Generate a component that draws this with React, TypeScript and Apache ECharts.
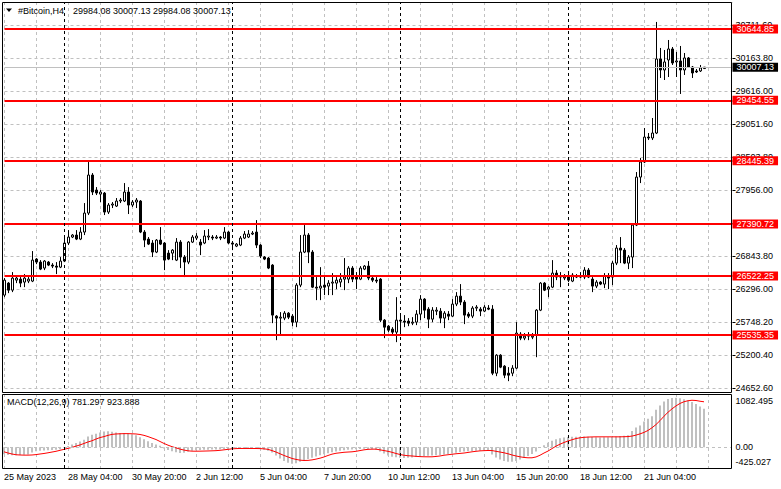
import React, { useEffect, useRef } from 'react';
import * as echarts from 'echarts';

const FONT = 'Liberation Sans, Arial, sans-serif';
const GRID_GRAY = '#c0c0c0';

const symbolTitle = '#Bitcoin,H4';
const lastBarText = '29984.08 30007.13 29984.08 30007.13';
const macdTitle = 'MACD(12,26,9) 781.297 923.888';

const openPrices = [
  26203, 26403, 26286, 26453, 26470, 26420, 26437, 26437, 26804, 26754,
  26654, 26754, 26704, 26687, 26670, 26771, 27072, 27172, 27205, 27138,
  27255, 27572, 28207, 27956, 27889, 27906, 27589, 27706, 27689, 27773,
  27773, 27923, 27706, 27756, 27773, 27255, 27138, 27072, 26921, 27121,
  27072, 26904, 26904, 26787, 27088, 26838, 26754, 27088, 27155, 27088,
  27072, 27172, 27172, 27155, 27172, 27155, 27255, 27072, 27021, 27038,
  27155, 27172, 27222, 27255, 27038, 26838, 26821, 26704, 25852, 25819,
  25819, 25902, 25852, 25752, 26370, 26921, 27205, 26921, 26336, 26320,
  26370, 26353, 26403, 26403, 26420, 26470, 26470, 26654, 26504, 26470,
  26637, 26687, 26487, 26453, 26470, 25785, 25685, 25635, 25585, 25769,
  25769, 25769, 25735, 25752, 25886, 26136, 25969, 25802, 25935, 25935,
  25819, 25886, 25852, 26053, 26186, 26086, 25886, 25852, 25986, 25969,
  25936, 25986, 25969, 24900, 25201, 25017, 24900, 24900, 24984, 25551,
  25485, 25518, 25501, 25535, 25952, 26403, 26303, 26336, 26570, 26520,
  26487, 26504, 26437, 26520, 26504, 26504, 26620, 26470, 26353, 26420,
  26387, 26520, 26504, 26737, 26988, 26954, 26737, 26838, 27372, 28173,
  28424, 28841, 28825, 28908, 30144, 29960, 30127, 30311, 30094, 30111,
  29960, 30161, 30010, 29944, 29944, 29984.08,
];

const closePrices = [
  26453, 26286, 26487, 26487, 26403, 26487, 26470, 26787, 26754, 26637,
  26771, 26704, 26687, 26670, 26771, 27072, 27172, 27205, 27138, 27255,
  27572, 28207, 27923, 27906, 27923, 27589, 27706, 27723, 27773, 27789,
  27923, 27706, 27756, 27789, 27255, 27121, 27054, 26921, 27121, 27054,
  26787, 26804, 26954, 27088, 26838, 26754, 27088, 27172, 27189, 27038,
  27189, 27189, 27155, 27172, 27155, 27255, 27072, 27054, 27054, 27155,
  27222, 27222, 27238, 27038, 26854, 26804, 26654, 25869, 25819, 25835,
  25902, 25835, 25752, 26370, 26921, 27205, 26921, 26336, 26320, 26353,
  26336, 26403, 26420, 26453, 26470, 26504, 26654, 26470, 26470, 26654,
  26687, 26487, 26453, 26437, 25785, 25668, 25618, 25585, 25785, 25785,
  25752, 25735, 25752, 25886, 26136, 25952, 25802, 25952, 25952, 25819,
  25902, 25852, 26053, 26186, 26086, 25869, 25852, 25986, 26002, 25936,
  26002, 25969, 24900, 25201, 25001, 24867, 24867, 24984, 25569, 25485,
  25518, 25535, 25518, 25952, 26403, 26286, 26336, 26570, 26504, 26504,
  26504, 26453, 26537, 26504, 26520, 26620, 26504, 26353, 26420, 26387,
  26520, 26487, 26737, 26988, 26954, 26737, 26838, 27372, 28173, 28424,
  28841, 28825, 28908, 30144, 29960, 30094, 30311, 30077, 30111, 29960,
  30161, 30010, 29910, 29927, 29994, 30007.13,
];

const lowPrices = [
  26169, 26236, 26253, 26403, 26336, 26336, 26403, 26420, 26720, 26620,
  26620, 26687, 26654, 26554, 26654, 26754, 27038, 27155, 27121, 27121,
  27205, 27539, 27873, 27873, 27756, 27539, 27556, 27656, 27673, 27739,
  27756, 27556, 27673, 27656, 27238, 27004, 27038, 26838, 26904, 27038,
  26620, 26787, 26787, 26771, 26654, 26504, 26720, 27072, 27121, 26871,
  27054, 27121, 27121, 27138, 27121, 27138, 27054, 26954, 27004, 27021,
  27138, 27155, 27205, 26988, 26821, 26787, 26637, 25735, 25451, 25535,
  25785, 25802, 25685, 25668, 26336, 26904, 26737, 26320, 26119, 26119,
  26203, 26203, 26203, 26303, 26336, 26286, 26403, 26420, 26303, 26453,
  26620, 26453, 26420, 26403, 25752, 25485, 25585, 25535, 25418, 25585,
  25668, 25685, 25702, 25702, 25785, 25819, 25652, 25752, 25869, 25735,
  25652, 25785, 25835, 26019, 26036, 25719, 25819, 25819, 25936, 25852,
  25919, 25952, 24867, 24850, 24984, 24817, 24767, 24850, 24967, 25451,
  25451, 25451, 25468, 25167, 25936, 26270, 26169, 26320, 26453, 26336,
  26453, 26420, 26420, 26487, 26487, 26470, 26487, 26253, 26320, 26370,
  26320, 26303, 26370, 26704, 26737, 26720, 26637, 26654, 27355, 28073,
  28407, 28791, 28791, 28891, 29827, 29793, 29843, 30044, 29843, 29560,
  29877, 29994, 29827, 29910, 29927, 29984.08,
];

const highPrices = [
  26487, 26420, 26587, 26537, 26504, 26554, 26504, 26938, 26821, 26787,
  26787, 26771, 26737, 26754, 26838, 27205, 27288, 27222, 27288, 27338,
  27739, 28424, 28240, 28006, 27956, 27923, 27739, 27756, 27823, 27823,
  28073, 28006, 27789, 27823, 27789, 27288, 27172, 27121, 27138, 27338,
  27088, 26954, 26971, 27155, 27121, 26871, 27105, 27205, 27238, 27138,
  27288, 27305, 27205, 27205, 27189, 27338, 27272, 27088, 27072, 27189,
  27272, 27288, 27272, 27455, 27054, 26854, 26838, 26720, 25869, 25919,
  25936, 25919, 25886, 26403, 27205, 27372, 27238, 26954, 26504, 26670,
  26537, 26453, 26570, 26504, 26570, 26821, 26687, 26687, 26587, 26687,
  26704, 26771, 26520, 26504, 26487, 25802, 25702, 25668, 26169, 25869,
  25869, 25819, 25835, 25952, 26203, 26153, 26002, 26002, 26002, 25986,
  25936, 25936, 26136, 26253, 26387, 26119, 25919, 26019, 26036, 26002,
  26036, 26036, 26036, 25217, 25217, 25034, 25001, 25034, 25752, 25585,
  25569, 25585, 25569, 25969, 26420, 26420, 26353, 26787, 26620, 26587,
  26554, 26570, 26570, 26554, 26587, 26670, 26654, 26504, 26453, 26437,
  26570, 26570, 26771, 27038, 27172, 26988, 26871, 27388, 28257, 28491,
  28992, 28908, 29159, 30762, 30328, 30294, 30461, 30344, 30261, 30361,
  30244, 30177, 30027, 29977, 30044, 30007.13,
];

const macdMain = [
  -145, -160, -165, -165, -160, -155, -150, -110, -85, -75,
  -70, -62, -58, -55, -45, -10, 25, 55, 85, 115,
  150, 215, 250, 275, 300, 320, 326, 315, 300, 290,
  285, 275, 260, 240, 200, 160, 120, 85, 55, 30,
  -30, -60, -85, -105, -120, -115, -90, -75, -65, -60,
  -55, -52, -50, -48, -45, -40, -38, -35, -32, -30,
  -28, -27, -27, -30, -40, -55, -75, -110, -170, -230,
  -280, -320, -340, -330, -300, -270, -240, -215, -190, -165,
  -145, -125, -105, -90, -75, -65, -55, -50, -45, -40,
  -35, -38, -45, -55, -90, -130, -170, -195, -205, -215,
  -220, -215, -210, -200, -190, -180, -175, -170, -165, -160,
  -150, -140, -130, -115, -100, -90, -85, -80, -75, -70,
  -65, -65, -150, -210, -250, -280, -300, -300, -280, -250,
  -215, -180, -140, -90, -20, 40, 90, 130, 160, 180,
  195, 205, 210, 210, 212, 215, 212, 205, 200, 198,
  200, 200, 205, 215, 225, 230, 240, 330, 400, 440,
  520, 580, 630, 760, 850, 930, 980, 1000, 1005, 995,
  975, 950, 920, 880, 830, 781.297,
];

const macdSignal = [
  -95, -120, -140, -155, -160, -163, -163, -160, -152, -140,
  -129, -115, -100, -85, -65, -45, -25, -5, 20, 45,
  75, 105, 130, 165, 195, 215, 240, 260, 268, 272,
  275, 275, 272, 268, 258, 240, 215, 185, 155, 115,
  75, 40, 10, -15, -40, -60, -75, -82, -83, -82,
  -80, -78, -75, -72, -65, -55, -45, -35, -30, -27,
  -27, -27, -27, -28, -30, -35, -45, -70, -100, -135,
  -170, -200, -230, -250, -265, -272, -270, -260, -244, -225,
  -200, -170, -143, -125, -115, -105, -100, -95, -85, -70,
  -55, -45, -41, -41, -55, -70, -85, -105, -129, -150,
  -165, -175, -180, -188, -193, -196, -197, -197, -190, -180,
  -165, -155, -145, -135, -128, -120, -108, -95, -85, -76,
  -72, -68, -70, -85, -100, -115, -135, -160, -180, -197,
  -210, -217, -217, -200, -165, -120, -80, -30, 20, 60,
  95, 125, 150, 175, 190, 200, 205, 208, 210, 210,
  210, 210, 210, 210, 210, 212, 215, 225, 245, 270,
  300, 340, 395, 460, 540, 630, 710, 780, 840, 890,
  925, 945, 955, 950, 935, 923.888,
];

const levelPrices = [30644.85, 29454.55, 28445.39, 27390.72, 26522.25, 25535.35];
const bidPrice = 30007.13;

const priceMin = 24652.6;
const priceStep = 550.8;
const priceMax = 31095;
const priceTickLabels = [
  '24652.60', '25200.40', '25748.20', '26296.00', '26843.80', '27391.60',
  '27956.00', '28503.80', '29051.60', '29616.00', '30163.80', '30711.60',
];

const macdMin = -425.027;
const macdMax = 1082.495;
const macdMinLabel = '-425.027';
const macdMaxLabel = '1082.495';
const macdZeroLabel = '0.00';

const timeTickLabels = [
  '25 May 2023', '28 May 04:00', '30 May 20:00', '2 Jun 12:00', '5 Jun 04:00',
  '7 Jun 20:00', '10 Jun 12:00', '13 Jun 04:00', '15 Jun 20:00', '18 Jun 12:00',
  '21 Jun 04:00',
];
const separatorBars = [15, 57, 99, 141];

const SLOT_COUNT = 183;
const startTime = Date.UTC(2023, 4, 25, 12, 0);
const pad = (n: number) => (n < 10 ? '0' + n : '' + n);
const categories = Array.from({ length: SLOT_COUNT }, (_, i) => {
  const d = new Date(startTime + i * 4 * 3600 * 1000);
  return `${d.getUTCFullYear()}.${pad(d.getUTCMonth() + 1)}.${pad(d.getUTCDate())} ${pad(d.getUTCHours())}:00`;
});

export default function App() {
  const ref = useRef<HTMLDivElement>(null);

  useEffect(() => {
    if (!ref.current) return;
    const chart = echarts.init(ref.current, null, { renderer: 'svg' });

    const candleData = openPrices.map((o, i) => [o, closePrices[i], lowPrices[i], highPrices[i]]);

    const labelBox = (bg: string) => ({
      show: true,
      position: 'end',
      distance: 0,
      backgroundColor: bg,
      color: '#fff',
      fontFamily: FONT,
      fontSize: 9,
      lineHeight: 9,
      padding: [0, 4, 0, 4],
    });

    const separatorLines = separatorBars.map((b) => ({
      xAxis: categories[b],
      lineStyle: { color: '#000', type: [3, 3], width: 1 },
      label: { show: false },
    }));

    const vSplit = {
      show: true,
      interval: (i: number) => i % 8 === 0,
      lineStyle: { color: GRID_GRAY, type: [3, 3], width: 1 },
    };

    const option: any = {
      animation: false,
      backgroundColor: '#ffffff',
      grid: [
        { left: 4.5, right: 48.5, top: 2, bottom: 101 },
        { left: 4, right: 49, top: 394, bottom: 21 },
      ],
      xAxis: [
        {
          type: 'category',
          gridIndex: 0,
          data: categories,
          boundaryGap: false,
          axisLine: { show: false },
          axisTick: { show: false },
          axisLabel: { show: false },
          splitLine: vSplit,
        },
        {
          type: 'category',
          gridIndex: 1,
          data: categories,
          boundaryGap: false,
          axisLine: { show: false },
          axisTick: { show: false },
          axisLabel: {
            show: true,
            interval: (i: number) => i % 16 === 0,
            formatter: (_v: string, i: number) => timeTickLabels[i / 16] ?? '',
            align: 'left',
            margin: 4,
            fontFamily: FONT,
            fontSize: 9,
            color: '#000',
          },
          splitLine: vSplit,
        },
      ],
      yAxis: [
        {
          type: 'value',
          gridIndex: 0,
          position: 'right',
          min: priceMin,
          max: priceMax,
          interval: priceStep,
          axisLine: { show: false },
          axisTick: { show: true, length: 3, lineStyle: { color: '#000' } },
          axisLabel: {
            show: true,
            margin: 3,
            fontFamily: FONT,
            fontSize: 9,
            color: '#000',
            showMaxLabel: false,
            formatter: (v: number) => {
              const k = Math.round((v - priceMin) / priceStep);
              if (Math.abs(priceMin + k * priceStep - v) > 1) return '';
              return priceTickLabels[k] ?? '';
            },
          },
          splitLine: { show: true, lineStyle: { color: GRID_GRAY, type: [3, 3], width: 1 } },
        },
        {
          type: 'value',
          gridIndex: 1,
          position: 'right',
          min: macdMin,
          max: macdMax,
          interval: -macdMin,
          axisLine: { show: false },
          axisTick: { show: false },
          splitLine: { show: false },
          axisLabel: {
            show: true,
            margin: 3.5,
            fontFamily: FONT,
            fontSize: 9,
            color: '#000',
            showMinLabel: true,
            showMaxLabel: true,
            formatter: (v: number) => {
              if (Math.abs(v - macdMax) < 1e-6) return '{t|' + macdMaxLabel + '}';
              if (Math.abs(v - macdMin) < 1e-6) return '{b|' + macdMinLabel + '}';
              if (Math.abs(v) < 1e-6) return macdZeroLabel;
              return '';
            },
            rich: {
              t: { padding: [13, 0, 0, 0], fontFamily: FONT, fontSize: 9, color: '#000' },
              b: { padding: [0, 0, 13, 0], fontFamily: FONT, fontSize: 9, color: '#000' },
            },
          },
        },
      ],
      series: [
        {
          type: 'candlestick',
          xAxisIndex: 0,
          yAxisIndex: 0,
          data: candleData,
          barWidth: 2,
          clip: false,
          itemStyle: {
            color: '#ffffff',
            color0: '#000000',
            borderColor: '#000000',
            borderColor0: '#000000',
            borderWidth: 1,
          },
          markLine: {
            silent: true,
            symbol: ['none', 'none'],
            animation: false,
            data: [
              ...levelPrices.map((v) => ({
                yAxis: v,
                lineStyle: { color: '#ff0000', width: 2, type: 'solid' },
                label: { ...labelBox('#ff0000'), formatter: v.toFixed(2) },
              })),
              {
                yAxis: bidPrice,
                lineStyle: { color: '#c0c0c0', width: 1, type: 'solid' },
                label: { ...labelBox('#000000'), formatter: bidPrice.toFixed(2) },
              },
              ...separatorLines,
            ],
          },
        },
        {
          type: 'bar',
          xAxisIndex: 1,
          yAxisIndex: 1,
          data: macdMain,
          barWidth: 2,
          itemStyle: { color: '#c0c0c0' },
          markLine: {
            silent: true,
            symbol: ['none', 'none'],
            animation: false,
            data: [
              {
                yAxis: 0,
                lineStyle: { color: GRID_GRAY, type: [3, 3], width: 1 },
                label: { show: false },
              },
              ...separatorLines,
            ],
          },
        },
        {
          type: 'line',
          xAxisIndex: 1,
          yAxisIndex: 1,
          data: macdSignal,
          showSymbol: false,
          symbol: 'none',
          lineStyle: { color: '#ff0000', width: 1 },
          z: 3,
        },
      ],
      graphic: [
        {
          type: 'rect',
          shape: { x: 2.5, y: 2.5, width: 729, height: 390 },
          style: { fill: 'none', stroke: '#000', lineWidth: 1 },
          z: 20,
          silent: true,
        },
        {
          type: 'rect',
          shape: { x: 2.5, y: 394.5, width: 729, height: 74 },
          style: { fill: 'none', stroke: '#000', lineWidth: 1 },
          z: 20,
          silent: true,
        },
        {
          type: 'polygon',
          shape: { points: [[6, 8.5], [12, 8.5], [9, 12]] },
          style: { fill: '#000' },
          z: 20,
        },
        {
          type: 'text',
          x: 18,
          y: 10.5,
          z: 20,
          style: { text: symbolTitle, fontFamily: FONT, fontSize: 9, fill: '#000', verticalAlign: 'middle' },
        },
        {
          type: 'text',
          x: 73,
          y: 10.5,
          z: 20,
          style: { text: lastBarText, fontFamily: FONT, fontSize: 9, fill: '#000', verticalAlign: 'middle' },
        },
        {
          type: 'text',
          x: 7,
          y: 401.5,
          z: 20,
          style: { text: macdTitle, fontFamily: FONT, fontSize: 9, fill: '#000', verticalAlign: 'middle' },
        },
      ],
    };

    chart.setOption(option);
    return () => chart.dispose();
  }, []);

  return (
    <div
      ref={ref}
      style={{ position: 'absolute', left: 0, top: 0, width: 781, height: 489, background: '#fff' }}
    />
  );
}
